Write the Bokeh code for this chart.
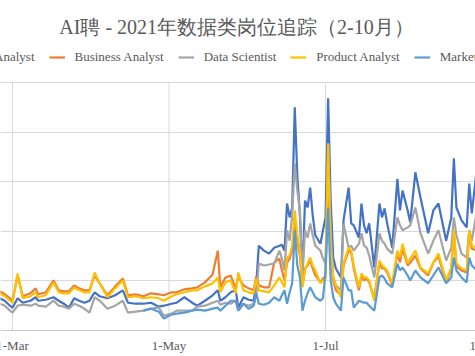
from datetime import datetime, timedelta
import numpy as np
import pandas as pd
from bokeh.plotting import figure
from bokeh.models import ColumnDataSource, FixedTicker, Grid, Legend, LegendItem, Range1d, Label, Span
from bokeh.core.properties import value
from bokeh.embed import file_html
from bokeh.resources import INLINE

dates = ["2021-02-24","2021-02-26","2021-02-28","2021-03-01","2021-03-03","2021-03-05","2021-03-08","2021-03-10",
         "2021-03-11","2021-03-14","2021-03-17","2021-03-19","2021-03-21","2021-03-23","2021-03-25","2021-03-27",
         "2021-03-29","2021-03-31","2021-04-02","2021-04-04","2021-04-07","2021-04-10","2021-04-13","2021-04-15",
         "2021-04-18","2021-04-21","2021-04-24","2021-04-27","2021-04-29","2021-05-02","2021-05-04","2021-05-07",
         "2021-05-10","2021-05-12","2021-05-15","2021-05-18","2021-05-20","2021-05-21","2021-05-23","2021-05-25",
         "2021-05-27","2021-05-28","2021-05-30","2021-06-01","2021-06-03","2021-06-04","2021-06-05","2021-06-07",
         "2021-06-09","2021-06-11","2021-06-13","2021-06-14","2021-06-15","2021-06-16","2021-06-17","2021-06-18",
         "2021-06-19","2021-06-20","2021-06-21","2021-06-22","2021-06-23","2021-06-24","2021-06-25","2021-06-26",
         "2021-06-27","2021-06-29","2021-06-30","2021-07-01","2021-07-02","2021-07-03","2021-07-04","2021-07-05",
         "2021-07-07","2021-07-08","2021-07-10","2021-07-11","2021-07-12","2021-07-14","2021-07-15","2021-07-16",
         "2021-07-17","2021-07-18","2021-07-20","2021-07-22","2021-07-23","2021-07-24","2021-07-25","2021-07-27",
         "2021-07-29","2021-07-30","2021-07-31","2021-08-02","2021-08-03","2021-08-05","2021-08-07","2021-08-10",
         "2021-08-12","2021-08-14","2021-08-17","2021-08-19","2021-08-20","2021-08-21","2021-08-23","2021-08-25",
         "2021-08-26","2021-08-27","2021-08-29"]

data_analyst = [65,60,50,46,65,56,60,67,60,62,67,60,54,46,65,60,56,60,77,69,65,71,81,56,54,54,56,48,50,54,56,67,
                56,50,60,71,81,60,67,77,81,46,67,62,60,95,171,161,155,167,171,173,161,256,228,248,450,312,232,115,
                262,248,288,232,192,175,202,228,468,262,147,125,107,222,288,216,212,187,256,212,196,216,127,256,
                228,246,216,167,306,242,282,242,218,319,268,196,242,256,181,228,347,248,222,208,296,236,329]

business_analyst = [79,73,65,60,111,69,75,85,73,77,101,81,79,79,91,85,81,81,111,95,71,89,105,71,73,69,75,73,71,77,
                    77,83,85,87,97,113,161,87,107,111,85,109,91,85,81,109,91,87,87,137,145,121,101,137,145,161,222,
                    181,151,91,125,131,141,125,111,97,105,109,343,151,101,81,71,131,161,157,125,81,111,101,105,97,65,
                    137,125,125,117,91,157,137,165,131,137,151,125,111,137,149,97,125,198,129,121,117,198,165,161]

data_scientist = [54,50,40,36,50,52,50,54,50,48,60,50,48,44,54,50,44,36,67,60,44,50,60,36,38,40,44,46,30,34,40,40,
                  40,48,50,56,60,52,56,54,60,40,54,50,54,71,135,131,133,135,161,145,121,202,181,232,337,282,242,107,
                  202,187,216,192,171,161,145,135,377,202,107,91,81,216,167,171,161,175,196,171,167,151,107,196,181,
                  175,165,155,228,212,202,208,212,248,196,155,181,202,141,167,228,192,155,147,202,181,242]

product_analyst = [75,69,60,56,115,65,69,77,67,71,97,77,75,75,87,81,77,77,117,95,67,85,101,67,69,65,67,65,60,69,73,
                   77,81,81,89,95,107,77,97,101,75,117,81,77,75,105,81,79,77,91,107,97,87,147,151,171,242,192,161,87,
                   121,135,147,131,121,95,101,105,377,161,107,91,67,135,167,161,131,87,115,107,107,101,60,141,131,127,
                   121,95,161,147,175,135,145,161,127,115,137,155,101,127,202,135,125,121,202,171,167]

marketing = [None]*25 + [40,44,38,24,32,34,36,40,42,40,44,46,40,50,60,60,40,54,44,50,75,54,52,56,67,60,71,81,54,77,95,
             202,131,107,40,60,75,87,77,67,60,65,121,248,101,67,54,40,107,81,81,46,60,58,56,56,50,40,107,111,105,95,
             87,135,121,127,111,101,121,107,95,111,127,95,107,147,121,107,97,147,131,121]

tick_dates = ["2021-03-01", "2021-05-01", "2021-07-01", "2021-09-01"]
tick_labels = ["1-Mar", "1-May", "1-Jul", "1-Sep"]
y_ticks = [0, 100, 200, 300, 400, 500]

series_names = ["Data Analyst", "Business Analyst", "Data Scientist", "Product Analyst", "Marketing"]
series_values = [data_analyst, business_analyst, data_scientist, product_analyst, marketing]
colors = ["#4472C4", "#ED7D31", "#A5A5A5", "#FFC000", "#5B9BD5"]
title_text = "AI聘 - 2021年数据类岗位追踪（2-10月）"

# layout: 2.566 px per day, 0.496 px per unit; frame fills the whole canvas
W, H = 475, 356
x = pd.to_datetime(dates)
start = datetime(2021, 3, 1) - timedelta(days=12 / 2.566)
end = start + timedelta(days=W / 2.566)
y_lo = y_ticks[0] - (H - 330) / 0.496
y_hi = y_ticks[-1] + 82 / 0.496

p = figure(width=W, height=H, x_axis_location=None, y_axis_location=None,
           x_range=Range1d(start, end), y_range=Range1d(y_lo, y_hi),
           output_backend="svg", toolbar_location=None,
           min_border=0)
p.outline_line_color = None
p.background_fill_color = "white"
p.border_fill_color = "white"
p.grid.visible = False

# horizontal gridlines
p.add_layout(Grid(dimension=1, ticker=FixedTicker(ticks=y_ticks[1:]), grid_line_color="#D9D9D9"))
# vertical gridlines between the axis and the top gridline
tick_x = pd.to_datetime(tick_dates)
p.segment(x0=tick_x, y0=[y_ticks[0]] * len(tick_x), x1=tick_x, y1=[y_ticks[-1]] * len(tick_x),
          line_color="#D9D9D9", line_width=1)
# axis line
p.add_layout(Span(location=y_ticks[0], dimension="width", line_color="#C8C8C8", line_width=1))
# tick labels
p.text(x=tick_x, y=[y_ticks[0]] * len(tick_x), text=tick_labels, y_offset=7,
       text_align="center", text_baseline="top", text_font=value("Liberation Serif"),
       text_font_size="13px", text_color="#595959")

renderers = []
for name, vals, col in zip(series_names, series_values, colors):
    src = ColumnDataSource(dict(x=x, y=np.array(vals, dtype=float)))
    r = p.line("x", "y", source=src, line_color=col, line_width=2.2)
    renderers.append(r)

items = [LegendItem(label=n, renderers=[r]) for n, r in zip(series_names, renderers)]
legend = Legend(items=items, orientation="horizontal", location=(-59, 291),
                label_text_font="Liberation Serif", label_text_font_size="13px",
                label_text_color="#595959", glyph_width=16, glyph_height=12,
                label_standoff=10, spacing=14, padding=0, margin=0,
                border_line_color=None, background_fill_alpha=0)
p.add_layout(legend, "center")

p.add_layout(Label(x=236, x_units="screen", y=y_ticks[-1] + 56 / 0.496, text=title_text,
                   text_align="center", text_baseline="middle", text_font="Liberation Serif",
                   text_font_size="20px", text_color="#595959"))

open("out.html", "w").write(file_html(p, INLINE))
